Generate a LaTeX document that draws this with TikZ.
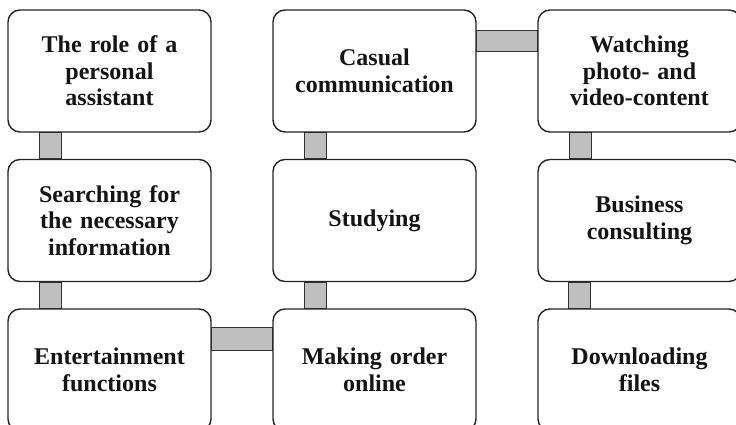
\documentclass[tikz,border=0pt]{standalone}
\usepackage{fontspec}
\setmainfont{Liberation Serif}
\begin{document}
\begin{tikzpicture}[x=1pt,y=-1pt,
  box/.style={draw=black!85, line width=1.4pt, fill=white, rounded corners=12pt,
    minimum width=203pt, minimum height=122pt, inner sep=0pt,
    text width=190pt, align=center,
    font=\fontsize{24}{26.5}\selectfont\bfseries, text=black!92},
  bar/.style={fill=black!25, draw=black!80, line width=1.3pt}]
\useasboundingbox (0,0) rectangle (736,425);
\clip (0,0) rectangle (736,425);
\fill[white] (0,0) rectangle (736,425);
% positions
\coordinate (pa) at (109.5,71);
\coordinate (pb) at (109.5,220.5);
\coordinate (pc) at (109.5,370);
\coordinate (pd) at (374.5,71);
\coordinate (pe) at (374.5,220.5);
\coordinate (pf) at (374.5,370);
\coordinate (pg) at (639.5,71);
\coordinate (ph) at (639.5,220.5);
\coordinate (pi) at (639.5,370);
% invisible anchors for connectors first
\node[box, draw=none, fill=none] (a) at (pa) {};
\node[box, draw=none, fill=none] (b) at (pb) {};
\node[box, draw=none, fill=none] (c) at (pc) {};
\node[box, draw=none, fill=none] (d) at (pd) {};
\node[box, draw=none, fill=none] (e) at (pe) {};
\node[box, draw=none, fill=none] (f) at (pf) {};
\node[box, draw=none, fill=none] (g) at (pg) {};
\node[box, draw=none, fill=none] (h) at (ph) {};
\node[box, draw=none, fill=none] (i) at (pi) {};
% connectors
\draw[bar] ([xshift=32pt]a.south west) rectangle ([xshift=54pt]b.north west);
\draw[bar] ([xshift=32pt]b.south west) rectangle ([xshift=54pt]c.north west);
\draw[bar] ([yshift=-19pt]c.north east) rectangle ([yshift=-42pt]f.north west);
\draw[bar] ([xshift=32pt]e.south west) rectangle ([xshift=54pt]f.north west);
\draw[bar] ([xshift=32pt]d.south west) rectangle ([xshift=54pt]e.north west);
\draw[bar] ([yshift=-21pt]d.north east) rectangle ([yshift=-42pt]g.north west);
\draw[bar] ([xshift=32pt]g.south west) rectangle ([xshift=54pt]h.north west);
\draw[bar] ([xshift=31pt]h.south west) rectangle ([xshift=53pt]i.north west);
% boxes
\node[box] (a1) at (a) {The role of a\\personal\\assistant};
\node[box] (b1) at (b) {Searching for\\the necessary\\information};
\node[box] (c1) at (c) {Entertainment\\functions};
\node[box] (d1) at (d) {Casual\\communication};
\node[box] (e1) at (e) {Studying};
\node[box] (f1) at (f) {Making order\\online};
\node[box] (g1) at (g) {Watching\\photo- and\\video-content};
\node[box] (h1) at (h) {Business\\consulting};
\node[box] (i1) at (i) {Downloading\\files};
\end{tikzpicture}
\end{document}
